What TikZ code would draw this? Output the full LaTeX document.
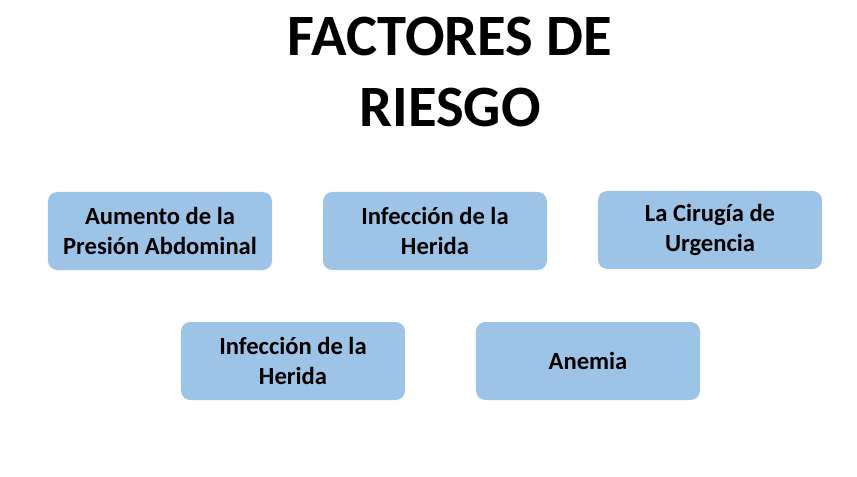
\documentclass[tikz,border=0pt]{standalone}
\usepackage{fontspec}
\setmainfont{Carlito}
\usetikzlibrary{positioning}
\definecolor{boxblue}{HTML}{9DC3E6}
\tikzset{
    factor/.style={fill=boxblue, rounded corners=8pt, minimum width=6.72cm,
        minimum height=2.34cm, align=center, inner sep=2pt,
        font=\fontsize{21}{25.5}\selectfont\bfseries}
}
\begin{document}
\begin{tikzpicture}[x=0.03cm, y=-0.03cm]
    \useasboundingbox (0,0) rectangle (857,477);
    \node (title) at (450,72) [align=center, font=\fontsize{50}{60}\selectfont\bfseries]
        {FACTORES DE\\RIESGO};
    \node[factor] (presion) at (160,231) {Aumento de la\\Presión Abdominal};
    \node[factor] (herida) at (435,231) {Infección de la\\Herida};
    \node[factor] (cirugia) at (710,230) {La Cirugía de\\Urgencia};
    \node[factor] (herida2) at (293,361) {Infección de la\\Herida};
    \node[factor] (anemia) at (588,361) {Anemia};
\end{tikzpicture}
\end{document}
